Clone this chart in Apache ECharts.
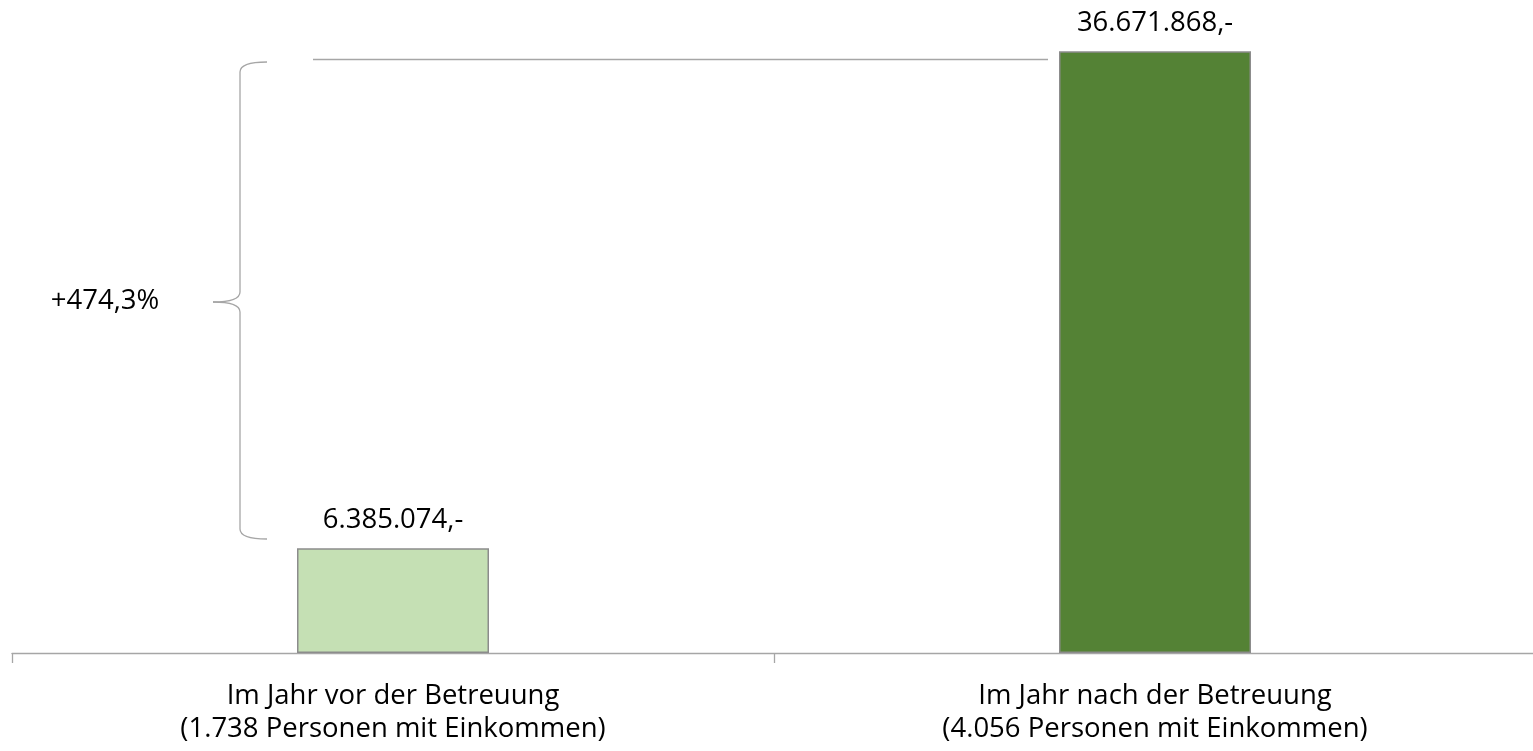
<!DOCTYPE html>
<html>
<head>
<meta charset="utf-8">
<script src="https://cdn.jsdelivr.net/npm/echarts@6/dist/echarts.min.js"></script>
<style>
html,body{margin:0;padding:0;background:#fff;overflow:hidden;}
#c{width:1536px;height:751px;}
</style>
</head>
<body>
<div id="c"></div>
<script>
const categories = ['Im Jahr vor der Betreuung\n(1.738 Personen mit Einkommen)', 'Im Jahr nach der Betreuung\n(4.056 Personen mit Einkommen)'];
const values = [6385074, 36671868];
const barColors = ['#C5E0B4', '#548235'];
const changeLabel = '+474,3%';

const FONT = '"Open Sans", "Noto Sans", sans-serif';
const FS = 27.5;
function fmt(v){
  return String(v).replace(/\B(?=(\d{3})+(?!\d))/g, '.') + ',-';
}
const G = '#A6A6A6';
const ls = {stroke: G, lineWidth: 1.3, fill: null};
function seg(x1,y1,x2,y2){ return {type:'line', shape:{x1,y1,x2,y2}, style: ls}; }
function qc(x1,y1,cx,cy,x2,y2){ return {type:'bezierCurve', shape:{x1,y1,x2,y2,cpx1:cx,cpy1:cy}, style: ls}; }

const chart = echarts.init(document.getElementById('c'));
chart.setOption({
  animation: false,
  backgroundColor: '#ffffff',
  grid: {left: 12, right: 0, top: 0, bottom: 98, containLabel: false},
  xAxis: {
    type: 'category',
    data: categories,
    axisLine: {show: true, lineStyle: {color: G, width: 1.3}},
    axisTick: {show: true, length: 10, lineStyle: {color: G, width: 1.3}},
    axisLabel: {color: '#000', fontFamily: FONT, fontSize: FS, lineHeight: 33, margin: 27}
  },
  yAxis: {
    type: 'value', min: 0, max: 39800000,
    show: false, splitLine: {show: false}
  },
  series: [{
    type: 'bar',
    barWidth: 192,
    data: values.map((v, i) => ({value: v, itemStyle: {color: barColors[i]}})),
    itemStyle: {borderColor: '#8C8C8C', borderWidth: 1.5},
    label: {
      show: true, position: 'top', distance: 14,
      color: '#000', fontFamily: FONT, fontSize: FS,
      formatter: p => fmt(p.value)
    }
  }],
  graphic: [
    seg(313, 59.5, 1048, 59.5),
    qc(267,62, 240,62, 240,72),
    seg(240,72, 240,292),
    qc(240,292, 240,302, 213,302),
    qc(213,302, 240,302, 240,312),
    seg(240,312, 240,529),
    qc(240,529, 240,539, 267,539),
    {type: 'text', x: 105, y: 301, style: {text: changeLabel, fill: '#000', fontSize: FS, fontFamily: FONT, align: 'center', verticalAlign: 'middle'}}
  ]
});
</script>
</body>
</html>
